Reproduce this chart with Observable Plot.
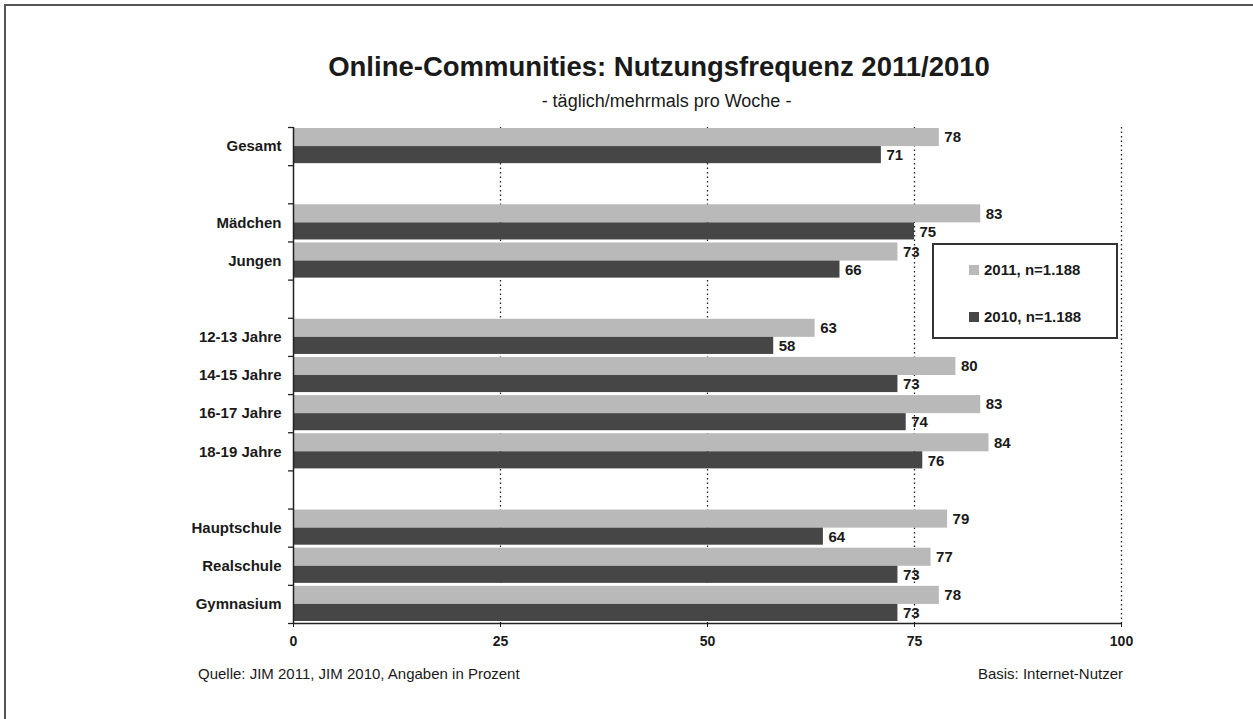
<!DOCTYPE html>
<html>
<head>
<meta charset="utf-8">
<script src="https://cdn.jsdelivr.net/npm/d3@7"></script>
<script src="https://cdn.jsdelivr.net/npm/@observablehq/plot@0.6"></script>
<style>
  html, body { margin: 0; padding: 0; background: #fff; }
  body { width: 1253px; height: 719px; position: relative; overflow: hidden;
         font-family: "Liberation Sans", Arial, sans-serif; color: #1a1a1a; }
  #frame { position: absolute; left: 4px; top: 4px; width: 1300px; height: 800px;
           border-left: 2px solid #555; border-top: 2px solid #555; }
  #title { position: absolute; left: 0; width: 1318px; top: 52px; text-align: center;
           font-weight: bold; font-size: 27.5px; line-height: 30px; }
  #subtitle { position: absolute; left: 0; width: 1333px; top: 90px; text-align: center;
              font-size: 18px; line-height: 22px; }
  #chart { position: absolute; left: 0; top: 110px; }
  #legend { position: absolute; left: 932px; top: 243px; width: 182px; height: 92px;
            border: 2px solid #333; background: #fff; }
  .item { position: absolute; left: 35px; font-weight: bold; font-size: 15px; line-height: 16px; }
  .sw { display: inline-block; width: 10px; height: 10px; margin-right: 5px; vertical-align: 0px; }
  #src { position: absolute; left: 198px; top: 665px; font-size: 15px; }
  #basis { position: absolute; right: 130px; top: 665px; font-size: 15px; }
</style>
</head>
<body>
<div id="frame"></div>
<div id="title">Online-Communities: Nutzungsfrequenz 2011/2010</div>
<div id="subtitle">- täglich/mehrmals pro Woche -</div>
<div id="chart"></div>
<div id="legend"></div>
<div id="src">Quelle: JIM 2011, JIM 2010, Angaben in Prozent</div>
<div id="basis">Basis: Internet-Nutzer</div>
<script>
// ---- data ----
const slots = ["Gesamt", " ", "Mädchen", "Jungen", "  ", "12-13 Jahre", "14-15 Jahre",
               "16-17 Jahre", "18-19 Jahre", "   ", "Hauptschule", "Realschule", "Gymnasium"];
const categories = ["Gesamt", "Mädchen", "Jungen", "12-13 Jahre", "14-15 Jahre",
                    "16-17 Jahre", "18-19 Jahre", "Hauptschule", "Realschule", "Gymnasium"];
const values2011 = [78, 83, 73, 63, 80, 83, 84, 79, 77, 78];
const values2010 = [71, 75, 66, 58, 73, 74, 76, 64, 73, 73];
const series = ["2011, n=1.188", "2010, n=1.188"];
const xTicks = [0, 25, 50, 75, 100];
const gridTicks = [25, 50, 75, 100];

const colors = {"2011, n=1.188": "#b9b9b9", "2010, n=1.188": "#464646"};

const rows = categories.flatMap((c, i) => [
  {category: c, series: series[0], value: values2011[i]},
  {category: c, series: series[1], value: values2010[i]}
]);
const r2011 = rows.filter(d => d.series === series[0]);
const r2010 = rows.filter(d => d.series === series[1]);

const W = 1253, H = 560, mt = 17, mb = 47, ml = 293, mr = 132;
const bw = (H - mt - mb) / slots.length;
const font = "Liberation Sans, Arial, sans-serif";

const chart = Plot.plot({
  width: W, height: H,
  marginTop: mt, marginBottom: mb, marginLeft: ml, marginRight: mr,
  style: {fontFamily: font, color: "#1a1a1a", background: "transparent", overflow: "visible"},
  x: {domain: [0, 100], ticks: xTicks},
  y: {domain: slots, padding: 0, round: false},
  marks: [
    Plot.ruleX(gridTicks, {stroke: "#222", strokeWidth: 1.3, strokeDasharray: "1.5,3"}),
    Plot.barX(r2011, {x: "value", y: "category", fill: d => colors[d.series],
                      insetTop: 1, insetBottom: bw / 2}),
    Plot.barX(r2010, {x: "value", y: "category", fill: d => colors[d.series],
                      insetTop: bw / 2, insetBottom: 2}),
    Plot.text(r2011, {x: "value", y: "category", text: d => String(d.value), dx: 5, dy: -9,
                      textAnchor: "start", fontWeight: "bold", fontSize: 15, fill: "#1a1a1a"}),
    Plot.text(r2010, {x: "value", y: "category", text: d => String(d.value), dx: 5, dy: 9,
                      textAnchor: "start", fontWeight: "bold", fontSize: 15, fill: "#1a1a1a"}),
    Plot.ruleX([0], {stroke: "#222", strokeWidth: 1.5}),
    Plot.ruleY([slots[slots.length - 1]], {x1: 0, x2: 100, dy: bw / 2, stroke: "#222", strokeWidth: 1.5}),
    Plot.ruleY(slots, {x1: -0.6, x2: 0, dy: -bw / 2, stroke: "#222", strokeWidth: 1.3}),
    Plot.ruleY([slots[slots.length - 1]], {x1: -0.6, x2: 0, dy: bw / 2, stroke: "#222", strokeWidth: 1.3}),
    Plot.axisY({tickSize: 0, tickPadding: 12, fontSize: 15, fontWeight: "bold", label: null,
                tickFormat: d => d.trim()}),
    Plot.axisX(xTicks, {tickSize: 4, tickPadding: 9, fontSize: 14, fontWeight: "bold", label: null})
  ]
});
document.getElementById("chart").appendChild(chart);

// legend from series
const leg = document.getElementById("legend");
series.forEach((s, i) => {
  const it = document.createElement("div");
  it.className = "item";
  it.style.top = (17 + i * 47) + "px";
  const sw = document.createElement("span");
  sw.className = "sw";
  sw.style.background = colors[s];
  it.appendChild(sw);
  it.appendChild(document.createTextNode(s));
  leg.appendChild(it);
});
</script>
</body>
</html>
